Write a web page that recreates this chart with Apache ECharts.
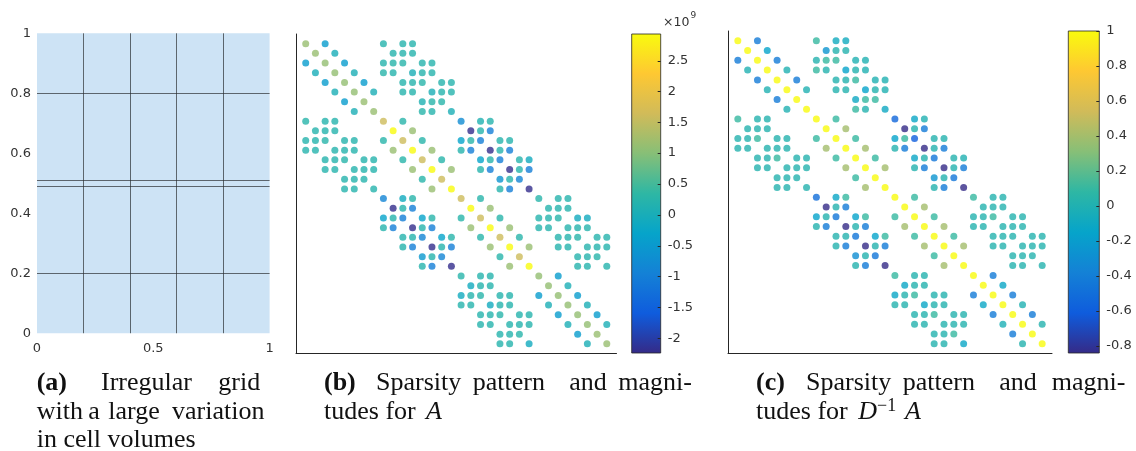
<!DOCTYPE html>
<html><head><meta charset="utf-8">
<script src="https://cdn.jsdelivr.net/npm/echarts@6/dist/echarts.min.js"></script>
<style>html,body{margin:0;padding:0;background:#fff}#c{width:1136px;height:451px}</style>
</head><body><div id="c"></div><script>
// ---- panel (a): grid geometry ----
const xEdges = [0, 0.2, 0.4, 0.6, 0.8, 1];
const yEdges = [0, 0.2, 0.49, 0.51, 0.8, 1];
// ---- panels (b),(c): sparsity pattern (0-based column indices per row) ----
const pattern = [
 [0,2,8,10,11],[1,3,9,10,11],[0,2,4,8,9,10,12,13],[1,3,5,8,9,11,12,13],
 [2,4,6,10,11,12,14,15],[3,5,7,10,11,13,14,15],[4,6,12,13,14],[5,7,12,13,15],
 [0,2,3,8,10,16,18,19],[1,2,3,9,11,17,18,19],[0,1,2,4,5,8,10,12,16,17,18,20,21],[0,1,3,4,5,9,11,13,16,17,19,20,21],
 [2,3,4,6,7,10,12,14,18,19,20,22,23],[2,3,5,6,7,11,13,15,18,19,21,22,23],[4,5,6,12,14,20,21,22],[4,5,7,13,15,20,21,23],
 [8,10,11,16,18,24,26,27],[9,10,11,17,19,25,26,27],[8,9,10,12,13,16,18,20,24,25,26,28,29],[8,9,11,12,13,17,19,21,24,25,27,28,29],
 [10,11,12,14,15,18,20,22,26,27,28,30,31],[10,11,13,14,15,19,21,23,26,27,29,30,31],[12,13,14,20,22,28,29,30],[12,13,15,21,23,28,29,31],
 [16,18,19,24,26],[17,18,19,25,27],[16,17,18,20,21,24,26,28],[16,17,19,20,21,25,27,29],
 [18,19,20,22,23,26,28,30],[18,19,21,22,23,27,29,31],[20,21,22,28,30],[20,21,23,29,31]
];
// values of A (units of 1e9), same order as pattern
const valuesA = [
 [1.15,-0.45,0.2,0.2,0.2],[1.15,0.0,0.2,0.2,0.2],[-0.45,1.1,-0.45,0.2,0.25,0.25,0.2,0.2],[0.0,1.1,0.05,0.25,0.2,0.05,0.2,0.2],
 [-0.45,1.1,-0.45,0.2,0.2,0.25,0.2,0.2],[0.05,1.1,0.05,0.2,0.2,0.05,0.2,0.2],[-0.45,1.15,0.1,0.25,0.25],[0.05,1.15,0.25,0.2,0.05],
 [0.25,0.2,0.2,1.6,0.25,-0.75,0.1,0.2],[0.2,0.2,0.2,2.93,1.15,-2.2,0.2,-1.0],[0.2,0.2,0.25,0.2,0.2,0.25,1.6,0.25,-0.3,0.25,-1.0,0.2,0.2],[0.2,0.2,0.2,0.2,0.2,1.15,2.93,1.15,0.2,-1.0,-2.2,0.2,-1.0],
 [0.2,0.2,0.25,0.2,0.2,0.25,1.6,0.25,-0.3,0.2,-1.0,0.2,-0.1],[0.2,0.2,0.2,0.2,0.2,1.15,2.93,1.15,0.2,-1.0,-2.2,0.2,-1.0],[0.2,0.2,0.2,0.25,1.6,-0.6,0.2,-0.9],[0.2,0.2,0.2,1.15,2.93,0.2,-1.0,-2.2],
 [-0.9,-0.1,0.25,1.6,0.25,0.25,0.2,0.2],[-2.2,0.2,-1.0,2.93,1.15,0.2,0.2,0.2],[-0.3,0.2,-1.0,-0.3,0.25,0.25,1.6,0.25,0.2,0.2,0.25,-0.1,-0.1],[0.2,-1.0,-2.2,0.2,-1.0,1.15,2.93,1.15,0.2,0.2,0.2,0.2,0.2],
 [0.2,0.2,-0.9,-0.3,0.25,0.25,1.6,0.25,0.2,0.2,0.25,0.2,0.2],[0.2,-1.0,-2.2,0.2,-1.0,1.15,2.93,1.15,0.2,0.2,0.2,0.2,0.2],[-0.5,0.2,-0.9,0.25,1.6,0.2,0.2,0.25],[0.2,-1.0,-2.2,1.15,2.93,0.2,0.2,0.2],
 [0.25,0.2,0.2,1.1,-0.45],[-0.1,0.2,0.2,1.1,0.05],[-0.1,0.2,0.25,0.2,0.2,-0.45,1.1,-0.45],[0.2,0.2,-0.1,0.2,0.2,0.05,1.1,0.05],
 [0.2,0.2,0.25,0.2,0.2,-0.45,1.1,-0.45],[0.2,0.2,0.2,0.2,0.2,0.05,1.1,0.05],[0.2,0.2,0.25,-0.45,1.15],[0.2,0.2,-0.1,0.05,1.15]
];
// values of D^-1 A, same order as pattern
const valuesDinvA = [
 [1,-0.42,0.1,-0.08,-0.08],[1,-0.15,-0.25,0.02,0.02],[-0.42,1,-0.42,0.02,0.1,0.1,0.0,0.0],[0.0,1,0.0,0.1,0.02,-0.15,0.02,0.0],
 [-0.42,1,-0.42,0.02,0.02,0.1,0.0,0.0],[0.0,1,0.0,0.02,0.02,-0.15,0.02,0.0],[-0.42,1,-0.1,0.1,0.1],[0.0,1,0.1,0.02,-0.1],
 [0.1,0.02,0.02,1,0.1,-0.55,-0.12,0.0],[0.02,0.02,0.02,1,0.4,-0.84,0.02,-0.42],[0.02,0.02,0.1,0.02,0.02,0.1,1,0.1,-0.15,0.1,-0.6,0.02,0.02],[0.02,0.02,0.02,0.02,0.02,0.4,1,0.4,0.02,-0.42,-0.84,0.02,-0.42],
 [0.02,0.02,0.1,0.02,0.02,0.1,1,0.1,-0.12,0.02,-0.45,0.02,0.0],[0.02,0.02,0.02,0.02,0.02,0.4,1,0.4,0.02,-0.42,-0.84,0.02,-0.42],[0.02,0.02,0.02,0.1,1,-0.25,0.02,-0.45],[0.02,0.02,0.02,0.4,1,0.02,-0.42,-0.84],
 [-0.5,-0.12,0.1,1,0.1,0.1,0.02,0.02],[-0.84,0.02,-0.42,1,0.4,0.02,0.02,0.02],[-0.15,0.02,-0.45,-0.15,0.1,0.1,1,0.1,0.02,0.02,0.1,0.02,0.02],[0.02,-0.42,-0.84,0.02,-0.42,0.4,1,0.4,0.02,0.02,0.02,0.02,0.02],
 [0.02,0.02,-0.45,-0.15,0.1,0.1,1,0.1,0.02,0.02,0.02,0.02,0.02],[0.02,-0.42,-0.84,0.02,-0.42,0.4,1,0.4,0.02,0.02,0.02,0.02,0.02],[-0.3,0.02,-0.45,0.1,1,0.02,0.02,0.02],[0.02,-0.42,-0.84,0.4,1,0.02,0.02,0.02],
 [0.1,0.02,0.02,1,-0.42],[-0.12,0.02,0.02,1,-0.12],[-0.12,0.02,0.1,0.02,0.02,-0.42,1,-0.42],[0.02,0.02,-0.12,0.02,0.02,-0.12,1,0.0],
 [0.02,0.02,0.1,0.02,0.02,-0.42,1,-0.42],[0.02,0.02,0.02,0.02,0.02,-0.02,1,0.02],[0.02,0.02,0.1,-0.42,1],[0.02,0.02,-0.12,0.02,1]
];
// colour limits and colorbar ticks
const climA = [-2.24, 2.93];
const climDinvA = [-0.84, 1.0];
const ticksA = [-2, -1.5, -1, -0.5, 0, 0.5, 1, 1.5, 2, 2.5];
const ticksDinvA = [-0.8, -0.6, -0.4, -0.2, 0, 0.2, 0.4, 0.6, 0.8, 1];
const matrixSize = 32;
const parula = ['#352a87','#0f5cdd','#1481d6','#06a4ca','#2eb7a4','#87bf77','#d1bb59','#fec832','#f9fb0e'];

// ---- build series data ----
function toPoints(vals){
  const out = [];
  pattern.forEach((cols, r) => cols.forEach((c, k) => out.push([c + 1, r + 1, vals[r][k]])));
  return out;
}
const cells = [];
for (let i = 0; i < xEdges.length - 1; i++)
  for (let j = 0; j < yEdges.length - 1; j++)
    cells.push([xEdges[i], xEdges[i + 1], yEdges[j], yEdges[j + 1]]);
const innerLines = [];
xEdges.slice(1, -1).forEach(x => innerLines.push({coords: [[x, 0], [x, 1]]}));
yEdges.slice(1, -1).forEach(y => innerLines.push({coords: [[0, y], [1, y]]}));

const TXT = '#333';
const SANS = 'DejaVu Sans';
const SERIF = 'Liberation Serif';
const gradStops = parula.map((c, i) => ({offset: i / (parula.length - 1), color: c}));

function colorbarRenderer(ticks){
  return function(params, api){
    const p0 = api.coord([0, api.value(1)]);
    const p1 = api.coord([1, api.value(0)]);
    const children = [{type: 'rect', shape: {x: p0[0], y: p0[1], width: p1[0] - p0[0], height: p1[1] - p0[1]},
      style: {fill: new echarts.graphic.LinearGradient(0, 1, 0, 0, gradStops), stroke: '#262626', lineWidth: 0.8}}];
    ticks.forEach(t => {
      const p = api.coord([1, t]);
      children.push({type: 'line', shape: {x1: p[0] - 3, y1: Math.round(p[1]) + 0.5, x2: p[0], y2: Math.round(p[1]) + 0.5},
        style: {stroke: '#262626', lineWidth: 1}});
    });
    return {type: 'group', children: children};
  };
}
const spyAxisLine = {show: true, onZero: false, lineStyle: {color: '#262626', width: 1}};
function spyX(g){ return {gridIndex: g, type: 'value', min: 0, max: matrixSize + 1, axisLine: spyAxisLine, axisTick: {show: false}, axisLabel: {show: false}, splitLine: {show: false}}; }
function spyY(g){ return {gridIndex: g, type: 'value', min: 0, max: matrixSize + 1, inverse: true, axisLine: spyAxisLine, axisTick: {show: false}, axisLabel: {show: false}, splitLine: {show: false}}; }
function cbX(g){ return {gridIndex: g, type: 'value', min: 0, max: 1, show: false}; }
function cbY(g, clim, ticks){
  return {gridIndex: g, type: 'value', position: 'right', min: clim[0], max: clim[1],
    axisLine: {show: false}, splitLine: {show: false}, axisTick: {show: false},
    axisLabel: {customValues: ticks, margin: 7, color: TXT, fontSize: 13, fontFamily: SANS, formatter: v => String(v)}};
}

// captions
function word(text, x, baseline, opts){
  opts = opts || {};
  const fs = opts.fs || 26;
  return {type: 'text', x: x, y: baseline - 0.33 * fs, silent: true,
    style: {text: text, fill: '#111', fontFamily: SERIF, fontSize: fs, fontWeight: opts.bold ? 'bold' : 'normal',
      fontStyle: opts.italic ? 'italic' : 'normal', textAlign: 'left', textVerticalAlign: 'middle'}};
}
const L1 = 391.7, L2 = 420.5, L3 = 448.5;
const graphics = [
  word('(a)', 36.7, L1, {bold: true}), word('Irregular', 101, L1), word('grid', 218.3, L1),
  word('with', 36.7, L2), word('a', 88.3, L2), word('large', 108.3, L2), word('variation', 172, L2),
  word('in cell volumes', 36.7, L3),
  word('(b)', 324, L1, {bold: true}), word('Sparsity', 376, L1), word('pattern', 472.7, L1), word('and', 569.3, L1), word('magni-', 618.3, L1),
  word('tudes for', 324, L2), word('A', 426, L2, {italic: true}),
  word('(c)', 756, L1, {bold: true}), word('Sparsity', 806, L1), word('pattern', 902.7, L1), word('and', 999.3, L1), word('magni-', 1051.7, L1),
  word('tudes for', 756, L2), word('D', 858.3, L2, {italic: true}), word('\u22121', 877, 412, {fs: 18}), word('A', 905, L2, {italic: true}),
  {type: 'text', x: 663, y: 22.5, silent: true, style: {text: '\u00d710', fill: TXT, fontFamily: SANS, fontSize: 12.5, textVerticalAlign: 'middle'}},
  {type: 'text', x: 690.5, y: 16, silent: true, style: {text: '9', fill: TXT, fontFamily: SANS, fontSize: 9, textVerticalAlign: 'middle'}}
];

const chart = echarts.init(document.getElementById('c'), null, {renderer: 'canvas'});
chart.setOption({
  animation: false,
  backgroundColor: '#fff',
  grid: [
    {left: 37, top: 33.3, width: 232.6, height: 300},
    {left: 296, top: 34, width: 320.5, height: 319.5},
    {left: 631.7, top: 34, width: 29, height: 319},
    {left: 728, top: 31, width: 324, height: 322.6},
    {left: 1068.3, top: 31, width: 31, height: 322}
  ],
  xAxis: [
    {gridIndex: 0, type: 'value', min: 0, max: 1, interval: 0.5, axisLine: {show: false}, axisTick: {show: false}, splitLine: {show: false},
      axisLabel: {color: TXT, fontSize: 13, fontFamily: SANS, margin: 9}},
    spyX(1), cbX(2), spyX(3), cbX(4)
  ],
  yAxis: [
    {gridIndex: 0, type: 'value', min: 0, max: 1, interval: 0.2, axisLine: {show: false}, axisTick: {show: false}, splitLine: {show: false},
      axisLabel: {color: TXT, fontSize: 13, fontFamily: SANS, margin: 6}},
    spyY(1), cbY(2, climA, ticksA), spyY(3), cbY(4, climDinvA, ticksDinvA)
  ],
  visualMap: [
    {type: 'continuous', show: false, seriesIndex: 2, dimension: 2, min: climA[0], max: climA[1], inRange: {color: parula}},
    {type: 'continuous', show: false, seriesIndex: 4, dimension: 2, min: climDinvA[0], max: climDinvA[1], inRange: {color: parula}}
  ],
  series: [
    {type: 'custom', xAxisIndex: 0, yAxisIndex: 0, silent: true, data: cells,
      renderItem: (params, api) => {
        const p0 = api.coord([api.value(0), api.value(3)]);
        const p1 = api.coord([api.value(1), api.value(2)]);
        return {type: 'rect', shape: {x: p0[0], y: p0[1], width: p1[0] - p0[0], height: p1[1] - p0[1]}, style: {fill: '#cde3f5'}};
      }},
    {type: 'lines', coordinateSystem: 'cartesian2d', xAxisIndex: 0, yAxisIndex: 0, silent: true, data: innerLines,
      lineStyle: {color: 'rgba(40,45,50,0.7)', width: 1, opacity: 1}},
    {type: 'scatter', xAxisIndex: 1, yAxisIndex: 1, data: toPoints(valuesA), symbol: 'circle', symbolSize: 7, silent: true},
    {type: 'custom', xAxisIndex: 2, yAxisIndex: 2, silent: true, data: [climA], renderItem: colorbarRenderer(ticksA)},
    {type: 'scatter', xAxisIndex: 3, yAxisIndex: 3, data: toPoints(valuesDinvA), symbol: 'circle', symbolSize: 7, silent: true},
    {type: 'custom', xAxisIndex: 4, yAxisIndex: 4, silent: true, data: [climDinvA], renderItem: colorbarRenderer(ticksDinvA)}
  ],
  graphic: graphics
});
</script></body></html>
